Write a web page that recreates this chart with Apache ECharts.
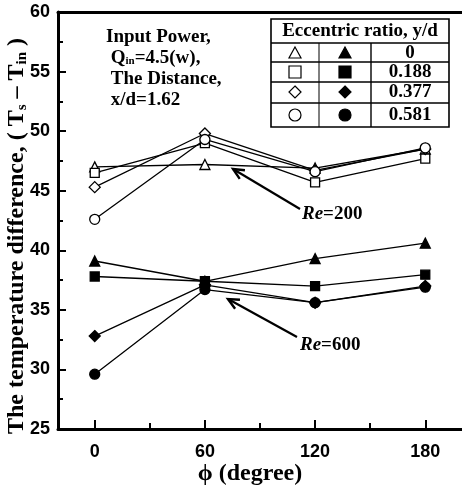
<!DOCTYPE html>
<html>
<head>
<meta charset="utf-8">
<script src="https://cdn.jsdelivr.net/npm/echarts@6/dist/echarts.min.js"></script>
<style>
  html, body { margin: 0; padding: 0; background: #fff; }
  #chart { width: 462px; height: 496px; }
</style>
</head>
<body>
<div id="chart"></div>
<script>
// angle positions (degree)
const phi = [0, 60, 120, 180]
const xTickLabels = [0, 60, 120, 180]
const xMinorTicks = [30, 90, 150]

// Re=200, open symbols
const re200_e0 = [47.0, 47.2, 46.9, 48.5]
const re200_e188 = [46.5, 49.0, 45.7, 47.7]
const re200_e377 = [45.3, 49.8, 46.7, 48.5]
const re200_e581 = [42.6, 49.3, 46.6, 48.6]

// Re=600, filled symbols
const re600_e0 = [39.1, 37.4, 39.3, 40.6]
const re600_e188 = [37.8, 37.4, 37.0, 37.95]
const re600_e377 = [32.8, 37.1, 35.6, 37.0]
const re600_e581 = [29.6, 36.7, 35.6, 36.9]

const ratios = ['0', '0.188', '0.377', '0.581']
const symbols = ['triangle', 'rect', 'diamond', 'circle']

const serif = '"Liberation Serif", "DejaVu Serif", serif'
const sans = '"Liberation Sans", Arial, sans-serif'

const chart = echarts.init(document.getElementById('chart'))

function makeSeries(name, values, symbol, filled) {
  return {
    name: name,
    type: 'line',
    xAxisIndex: 0,
    data: phi.map((p, i) => [p, values[i]]),
    symbol: symbol,
    symbolSize: symbol === 'diamond' ? 11 : (symbol === 'rect' ? 9 : 10),
    lineStyle: { color: '#000', width: 1.3 },
    itemStyle: { color: filled ? '#000' : '#fff', borderColor: '#000', borderWidth: 1.3 },
    z: filled ? 3 : 2,
    animation: false
  }
}

// arrow (line + head) for annotations
function arrow(x1, y1, x2, y2) {
  const dx = x1 - x2, dy = y1 - y2
  const len = Math.sqrt(dx * dx + dy * dy)
  const bx = dx / len, by = dy / len
  const a = 25 * Math.PI / 180, L = 12
  const p1 = [x2 + L * (bx * Math.cos(a) - by * Math.sin(a)), y2 + L * (bx * Math.sin(a) + by * Math.cos(a))]
  const p2 = [x2 + L * (bx * Math.cos(a) + by * Math.sin(a)), y2 + L * (-bx * Math.sin(a) + by * Math.cos(a))]
  return [
    { type: 'line', shape: { x1: x1, y1: y1, x2: x2, y2: y2 }, style: { stroke: '#000', lineWidth: 2.2 } },
    { type: 'polyline', shape: { points: [p1, [x2, y2], p2] }, style: { stroke: '#000', lineWidth: 2.4, fill: null } }
  ]
}

// legend table symbol
function legendSymbol(type, cx, cy, filled) {
  const style = { fill: filled ? '#000' : '#fff', stroke: '#000', lineWidth: 1.2 }
  if (type === 'triangle') {
    return { type: 'polygon', shape: { points: [[cx, cy - 6], [cx + 6, cy + 5], [cx - 6, cy + 5]] }, style: style }
  }
  if (type === 'rect') {
    return { type: 'rect', shape: { x: cx - 6, y: cy - 6, width: 12, height: 12 }, style: style }
  }
  if (type === 'diamond') {
    return { type: 'polygon', shape: { points: [[cx, cy - 6], [cx + 6, cy], [cx, cy + 6], [cx - 6, cy]] }, style: style }
  }
  return { type: 'circle', shape: { cx: cx, cy: cy, r: 6 }, style: style }
}

const tL = 271, tR = 449, tT = 19, tB = 127
const rowLines = [43, 62, 82, 103]
const rowCenters = [53, 72, 92, 115]
const tableGraphics = [
  { type: 'rect', shape: { x: tL, y: tT, width: tR - tL, height: tB - tT }, style: { fill: '#fff', stroke: '#000', lineWidth: 1.6 } },
  { type: 'text', x: (tL + tR) / 2, y: 31, style: { text: 'Eccentric ratio, y/d', font: 'bold 19px ' + serif, fill: '#000', align: 'center', verticalAlign: 'middle' } },
  { type: 'line', shape: { x1: 319, y1: 43, x2: 319, y2: tB }, style: { stroke: '#000', lineWidth: 1 } },
  { type: 'line', shape: { x1: 371, y1: 43, x2: 371, y2: tB }, style: { stroke: '#000', lineWidth: 1.4 } }
]
rowLines.forEach(y => {
  tableGraphics.push({ type: 'line', shape: { x1: tL, y1: y, x2: tR, y2: y }, style: { stroke: '#000', lineWidth: 1.4 } })
})
ratios.forEach((r, i) => {
  tableGraphics.push(legendSymbol(symbols[i], 295, rowCenters[i], false))
  tableGraphics.push(legendSymbol(symbols[i], 345, rowCenters[i], true))
  tableGraphics.push({ type: 'text', x: 410, y: rowCenters[i], style: { text: r, font: 'bold 19px ' + serif, fill: '#000', align: 'center', verticalAlign: 'middle' } })
})

const option = {
  backgroundColor: '#fff',
  animation: false,
  grid: { left: 58, right: 0, top: 12, bottom: 67 },
  xAxis: [
    {
      type: 'value', min: -20, max: 200, position: 'bottom',
      axisLine: { show: true, onZero: false, lineStyle: { color: '#000', width: 3 } },
      axisTick: { show: true, inside: true, length: 9, lineStyle: { color: '#000', width: 2 }, customValues: xTickLabels },
      axisLabel: { customValues: xTickLabels, margin: 14, fontFamily: sans, fontWeight: 'bold', fontSize: 18, color: '#000' },
      splitLine: { show: false }
    },
    {
      type: 'value', min: -20, max: 200, position: 'bottom',
      axisLine: { show: false, onZero: false },
      axisTick: { show: true, inside: true, length: 6, lineStyle: { color: '#000', width: 2 }, customValues: xMinorTicks },
      axisLabel: { show: false },
      splitLine: { show: false }
    },
    {
      type: 'value', min: -20, max: 200, position: 'top',
      axisLine: { show: true, onZero: false, lineStyle: { color: '#000', width: 3 } },
      axisTick: { show: false },
      axisLabel: { show: false },
      splitLine: { show: false }
    }
  ],
  yAxis: {
    type: 'value', min: 25, max: 60, interval: 5, position: 'left',
    axisLine: { show: true, onZero: false, lineStyle: { color: '#000', width: 3 } },
    axisTick: { show: true, inside: true, length: 8, lineStyle: { color: '#000', width: 2 } },
    minorTick: { show: true, splitNumber: 2, length: 5, lineStyle: { color: '#000', width: 2 } },
    axisLabel: { margin: 8, fontFamily: sans, fontWeight: 'bold', fontSize: 18, color: '#000' },
    splitLine: { show: false }
  },
  series: [
    makeSeries('Re=200, y/d=0', re200_e0, 'triangle', false),
    makeSeries('Re=200, y/d=0.188', re200_e188, 'rect', false),
    makeSeries('Re=200, y/d=0.377', re200_e377, 'diamond', false),
    makeSeries('Re=200, y/d=0.581', re200_e581, 'circle', false),
    makeSeries('Re=600, y/d=0', re600_e0, 'triangle', true),
    makeSeries('Re=600, y/d=0.188', re600_e188, 'rect', true),
    makeSeries('Re=600, y/d=0.377', re600_e377, 'diamond', true),
    makeSeries('Re=600, y/d=0.581', re600_e581, 'circle', true)
  ],
  graphic: [
    {
      type: 'text', x: 17, y: 236, rotation: Math.PI / 2,
      style: {
        text: 'The temperature difference, ( T{s|s} – T{s|in} )',
        font: 'bold 24px ' + serif, fill: '#000', align: 'center', verticalAlign: 'middle',
        rich: { s: { font: 'bold 15px ' + serif, fill: '#000', padding: [10, 0, 0, 0] } }
      }
    },
    {
      type: 'text', x: 250, y: 474,
      style: {
        text: 'ϕ (degree)', font: 'bold 24px ' + serif, fill: '#000',
        align: 'center', verticalAlign: 'middle'
      }
    },
    {
      type: 'text', left: 106, top: 27,
      style: {
        text: 'Input Power,\n Q{s|in}=4.5(w),\n The Distance,\n x/d=1.62',
        font: 'bold 19px ' + serif, fill: '#000', lineHeight: 21,
        rich: { s: { font: 'bold 11px ' + serif, fill: '#000', padding: [6, 0, 0, 0] } }
      }
    },
    {
      type: 'text', left: 302, top: 205,
      style: {
        text: '{i|Re}=200', font: 'bold 19px ' + serif, fill: '#000',
        rich: { i: { font: 'italic bold 19px ' + serif, fill: '#000' } }
      }
    },
    {
      type: 'text', left: 300, top: 336,
      style: {
        text: '{i|Re}=600', font: 'bold 19px ' + serif, fill: '#000',
        rich: { i: { font: 'italic bold 19px ' + serif, fill: '#000' } }
      }
    }
  ].concat(arrow(300, 209, 233, 169), arrow(297, 337, 228, 299), tableGraphics)
}

chart.setOption(option)
</script>
</body>
</html>
